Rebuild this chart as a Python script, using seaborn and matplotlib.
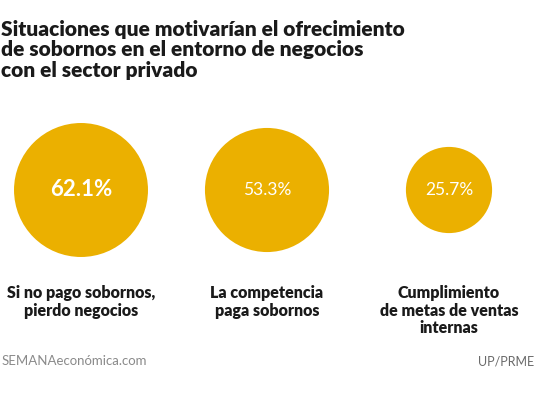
import numpy as np
import pandas as pd
import matplotlib.pyplot as plt
import seaborn as sns

# datos del grafico
situaciones = ["Si no pago sobornos,\npierdo negocios",
               "La competencia\npaga sobornos",
               "Cumplimiento\nde metas de ventas\ninternas"]
porcentajes = [62.1, 53.3, 25.7]
titulo = "Situaciones que motivarían el ofrecimiento\nde sobornos en el entorno de negocios\ncon el sector privado"

sns.set_theme(style="white")
plt.rcParams['font.family'] = ['Lato', 'DejaVu Sans']

W, H = 536, 398
fig = plt.figure(figsize=(W / 100, H / 100), dpi=100)
ax = fig.add_axes([0, 0, 1, 1])

# ejes en pixeles
cx = [81, 267, 449]
cy = 190
df = pd.DataFrame({"x": cx, "y": [cy] * 3, "v": porcentajes, "lab": situaciones})

# area proporcional al porcentaje (radio de 85 px para 100%)
s100 = (2 * 85 * 0.72) ** 2
sns.scatterplot(data=df, x="x", y="y", size="v", sizes=(0, s100), size_norm=(0, 100),
                color="#EBB000", linewidth=0, legend=False, ax=ax, alpha=1)

ax.set_xlim(0, W)
ax.set_ylim(H, 0)
ax.axis("off")

for i, row in df.iterrows():
    txt = f"{row.v:.1f}%"
    if i == 0:
        ax.text(row.x, row.y, txt, color="white", fontsize=16, fontweight="bold",
                ha="center", va="center")
    else:
        ax.text(row.x, row.y, txt, color="white", fontsize=12.5, fontweight="normal",
                ha="center", va="center")
    ax.text(row.x, 285, row.lab, color="#1a1a1a", fontsize=11.5, fontweight="heavy",
            ha="center", va="top", linespacing=1.12)

ax.text(1, 20, titulo, color="#1a1a1a", fontsize=15, fontweight="heavy",
        ha="left", va="top", linespacing=1.08)

ax.text(2, 361, "SEMANAeconómica.com", color="#8a8a8a", fontsize=9.5,
        ha="left", va="center")
ax.text(534, 361, "UP/PRME", color="#6a6a6a", fontsize=9,
        ha="right", va="center")

fig.savefig("out.png", dpi=100, facecolor="white")
